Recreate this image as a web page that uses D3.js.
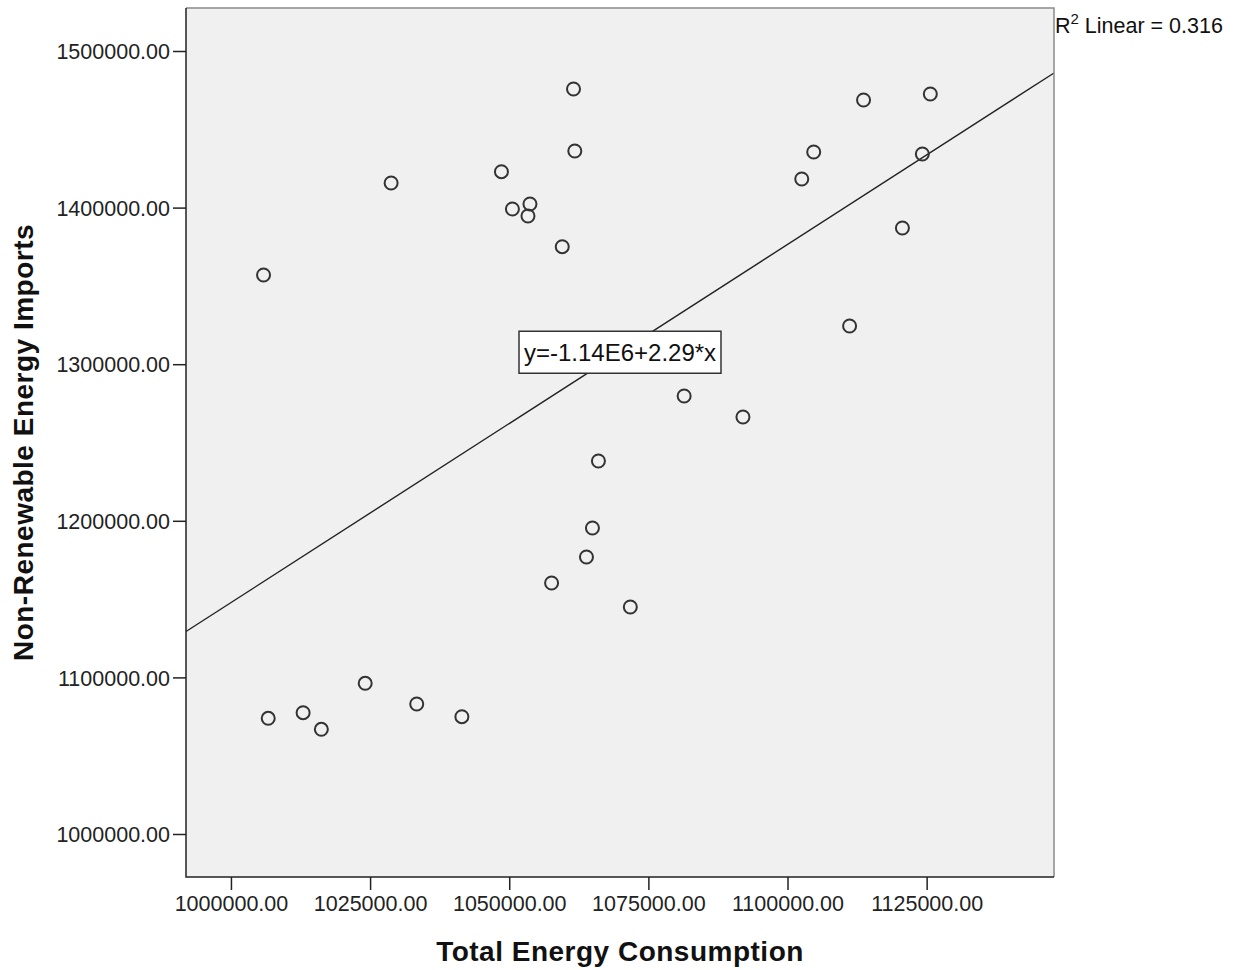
<!DOCTYPE html>
<html>
<head>
<meta charset="utf-8">
<script src="https://cdn.jsdelivr.net/npm/d3@7"></script>
<style>
  body { margin: 0; background: #fff; }
  svg text { font-family: "Liberation Sans", Arial, sans-serif; }
</style>
</head>
<body>
<div id="chart"></div>
<script>
// values
const totalConsumption = [1005856, 1006698, 1012965, 1016243, 1024122, 1028778, 1033381, 1041493,
  1048602, 1050572, 1053366, 1053724, 1059526, 1057610, 1061550, 1061783, 1063878, 1064952,
  1066027, 1071757, 1081428, 1091993, 1102559, 1104708, 1111155, 1113662, 1120646, 1124228, 1125660]
const nonRenewableImports = [1356960, 1073882, 1077458, 1066857, 1096233, 1415709, 1083014, 1074905,
  1422925, 1399106, 1394636, 1402299, 1375032, 1160281, 1475734, 1436143, 1176884, 1195398,
  1238186, 1144955, 1279693, 1266283, 1418263, 1435504, 1324393, 1468710, 1386975, 1434227, 1472541]
const xTicks = [1000000, 1025000, 1050000, 1075000, 1100000, 1125000]
const yTicks = [1000000, 1100000, 1200000, 1300000, 1400000, 1500000]
const xDomain = [991924, 1147882]
const yDomain = [972541, 1527459]
const fitIntercept = -1139234
const fitSlope = 2.287
const fitLabel = "y=-1.14E6+2.29*x"
const r2Value = "0.316"

const width = 1236, height = 970
const margin = {top: 8, right: 182, bottom: 93, left: 186}
const innerWidth = width - margin.left - margin.right
const innerHeight = height - margin.top - margin.bottom

const svg = d3.select('#chart').append('svg')
  .attr('width', width)
  .attr('height', height)

const x = d3.scaleLinear().domain(xDomain).range([0, innerWidth])
const y = d3.scaleLinear().domain(yDomain).range([innerHeight, 0])

const g = svg.append('g').attr('transform', `translate(${margin.left},${margin.top})`)

g.append('rect')
  .attr('width', innerWidth).attr('height', innerHeight)
  .attr('fill', '#f0f0f0')

g.append('clipPath').attr('id', 'clip')
  .append('rect').attr('width', innerWidth).attr('height', innerHeight)

// fit line
const fit = v => fitIntercept + fitSlope * v
g.append('line')
  .attr('clip-path', 'url(#clip)')
  .attr('x1', x(xDomain[0])).attr('y1', y(fit(xDomain[0])))
  .attr('x2', x(xDomain[1])).attr('y2', y(fit(xDomain[1])))
  .attr('stroke', '#222').attr('stroke-width', 1.4)

// points
g.append('g').selectAll('circle')
  .data(totalConsumption.map((v, i) => [v, nonRenewableImports[i]]))
  .join('circle')
  .attr('cx', d => x(d[0]))
  .attr('cy', d => y(d[1]))
  .attr('r', 6.5)
  .attr('fill', 'none')
  .attr('stroke', '#333')
  .attr('stroke-width', 2)

// frame
g.append('path')
  .attr('d', `M0,0H${innerWidth}V${innerHeight}`)
  .attr('fill', 'none').attr('stroke', '#8a8a8a').attr('stroke-width', 1.5)
g.append('path')
  .attr('d', `M0,0V${innerHeight}H${innerWidth}`)
  .attr('fill', 'none').attr('stroke', '#222').attr('stroke-width', 1.5)

// axes
const xAxis = g.append('g')
  .attr('transform', `translate(0,${innerHeight})`)
  .call(d3.axisBottom(x).tickValues(xTicks).tickSize(13).tickPadding(6).tickFormat(d3.format('.2f')))
const yAxis = g.append('g')
  .call(d3.axisLeft(y).tickValues(yTicks).tickSize(13).tickPadding(3).tickFormat(d3.format('.2f')))

;[xAxis, yAxis].forEach(a => {
  a.select('.domain').remove()
  a.selectAll('.tick line').attr('stroke', '#222').attr('stroke-width', 1.5)
  a.selectAll('.tick text')
    .attr('fill', '#222')
    .style('font-family', '"Liberation Sans", Arial, sans-serif')
    .style('font-size', '21.5px')
})
yAxis.selectAll('.tick text').attr('dy', '0.36em')

// equation label
const midX = (xDomain[0] + xDomain[1]) / 2
const lbl = g.append('g').attr('transform', `translate(${x(midX)},${y(fit(midX))})`)
lbl.append('rect')
  .attr('x', -101).attr('y', -21)
  .attr('width', 202).attr('height', 42)
  .attr('fill', '#fff').attr('stroke', '#333').attr('stroke-width', 1.5)
lbl.append('text')
  .attr('text-anchor', 'middle')
  .attr('dy', '0.36em')
  .style('font-size', '24px')
  .attr('fill', '#111')
  .text(fitLabel)

// R2 label
const r2 = svg.append('text')
  .attr('x', margin.left + innerWidth + 1)
  .attr('y', 33)
  .style('font-size', '21.5px')
  .attr('fill', '#111')
r2.append('tspan').text('R')
r2.append('tspan').attr('dy', -9).style('font-size', '15px').text('2')
r2.append('tspan').attr('dy', 9).text(' Linear = ' + r2Value)

// axis titles
svg.append('text')
  .attr('x', margin.left + innerWidth / 2)
  .attr('y', 961)
  .attr('text-anchor', 'middle')
  .style('font-size', '28px').style('font-weight', 'bold').style('letter-spacing', '0.5px')
  .attr('fill', '#111')
  .text('Total Energy Consumption')

svg.append('text')
  .attr('transform', `translate(33,${margin.top + innerHeight / 2}) rotate(-90)`)
  .attr('text-anchor', 'middle')
  .style('font-size', '28px').style('font-weight', 'bold').style('letter-spacing', '0.5px')
  .attr('fill', '#111')
  .text('Non-Renewable Energy Imports')
</script>
</body>
</html>
